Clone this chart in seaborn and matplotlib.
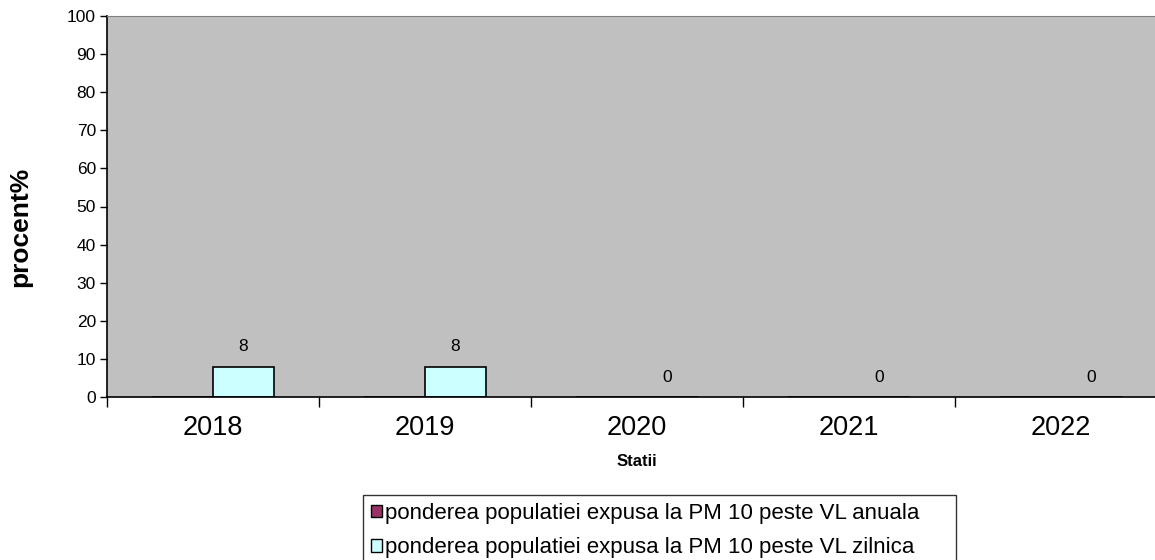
import pandas as pd
import matplotlib
matplotlib.use("Agg")
import matplotlib.pyplot as plt
import seaborn as sns
from matplotlib.patches import Patch
from matplotlib.ticker import MultipleLocator, FixedLocator

# data
years = ['2018', '2019', '2020', '2021', '2022']
anuala = [0, 0, 0, 0, 0]
zilnica = [8, 8, 0, 0, 0]
series_names = ['ponderea populatiei expusa la PM 10 peste VL anuala',
                'ponderea populatiei expusa la PM 10 peste VL zilnica']
colors = ['#993366', '#CCFFFF']

df = pd.DataFrame({
    'an': years * 2,
    'procent': anuala + zilnica,
    'serie': [series_names[0]] * len(years) + [series_names[1]] * len(years),
})

sns.set_style('white')
plt.rcParams['font.family'] = ['Liberation Sans', 'DejaVu Sans']
plt.rcParams['text.color'] = 'black'
plt.rcParams['xtick.color'] = 'black'
plt.rcParams['ytick.color'] = 'black'
plt.rcParams['axes.labelcolor'] = 'black'

fig = plt.figure(figsize=(11.55, 5.6), dpi=100)
ax = fig.add_axes([107 / 1155, 163 / 560, 1060 / 1155, 381 / 560])

sns.barplot(data=df, x='an', y='procent', hue='serie', palette=colors,
            saturation=1, width=0.576, gap=0, edgecolor='black', linewidth=1.2,
            legend=False, ax=ax)

# labels only on the daily series
ax.bar_label(ax.containers[1], labels=[str(v) for v in zilnica],
             padding=9, fontsize=12.5)

ax.set_facecolor('#C0C0C0')
ax.set_xlim(-0.5, 4.5)
ax.set_ylim(0, 100)
ax.yaxis.set_major_locator(MultipleLocator(10))
ax.tick_params(axis='y', which='major', length=5, width=1, direction='out',
               labelsize=12.5, pad=3, left=True)
ax.tick_params(axis='x', which='major', length=0, labelsize=19.5, pad=13)
ax.xaxis.set_minor_locator(FixedLocator([i - 0.5 for i in range(len(years) + 1)]))
ax.tick_params(axis='x', which='minor', length=7, width=1, direction='out', bottom=True)

for side in ['left', 'bottom']:
    ax.spines[side].set_color('black')
    ax.spines[side].set_linewidth(1.2)
ax.spines['top'].set_color('#808080')
ax.spines['right'].set_visible(False)

ax.set_xlabel('Statii', fontsize=12, fontweight='bold')
ax.xaxis.set_label_coords(0.5, -(462 - 397) / 381)
ax.xaxis.label.set_va('center')
ax.set_ylabel('procent%', fontsize=19, fontweight='bold')
ax.yaxis.set_label_coords((20 - 107) / 1060, (397 - 227) / 381)
ax.yaxis.label.set_va('center')

handles = [Patch(facecolor=c, edgecolor='black', linewidth=1) for c in colors]
fig.legend(handles, series_names, loc='upper left', mode='expand',
           bbox_to_anchor=(363 / 1155, 0, (956 - 363) / 1155, 65 / 560),
           fontsize=16, frameon=True, fancybox=False, edgecolor='black',
           handlelength=0.5, handleheight=0.5, handletextpad=0.15,
           labelspacing=0.6, borderpad=0.35, borderaxespad=0)

fig.savefig('out.png', dpi=100)
